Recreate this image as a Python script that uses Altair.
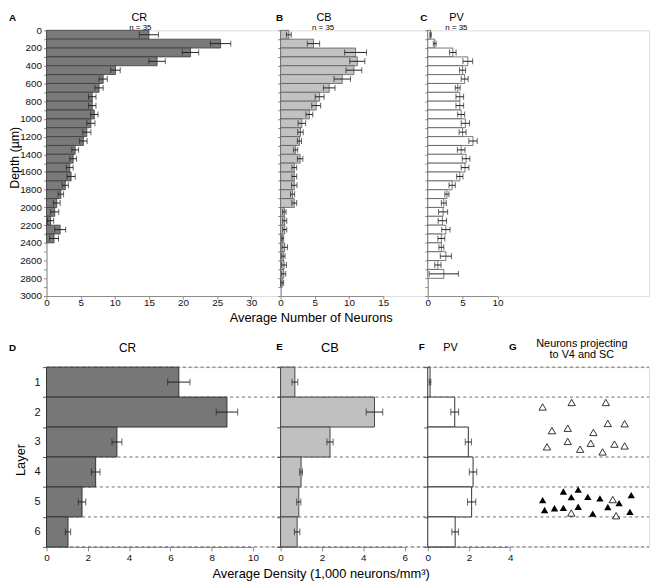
import altair as alt
import pandas as pd

FONT = "Liberation Sans"
AX = "#8a8a8a"

# ---------------- data: top panels (counts per 100 um depth bin) ----------------
cr_counts = [15.0, 25.5, 21.1, 16.2, 10.1, 8.3, 7.7, 6.7, 6.7, 7.0, 6.5, 5.9, 5.4, 4.2,
             3.9, 3.4, 3.6, 2.75, 2.1, 1.5, 1.2, 0.6, 2.0, 1.1]
cr_sem = [1.4, 1.5, 1.2, 1.2, 0.7, 0.6, 0.6, 0.55, 0.55, 0.55, 0.6, 0.6, 0.55, 0.5,
          0.5, 0.5, 0.6, 0.45, 0.4, 0.5, 0.6, 0.45, 0.8, 0.65]
cb_counts = [1.2, 4.8, 10.95, 11.2, 10.7, 9.0, 7.1, 5.7, 5.2, 4.2, 3.1, 2.9, 2.75, 2.2,
             2.85, 2.0, 2.0, 2.0, 1.75, 2.0, 0.55, 0.6, 0.6, 0.3, 0.6, 0.4, 0.5, 0.45, 0.25]
cb_sem = [0.35, 0.9, 1.6, 1.1, 1.15, 1.2, 0.85, 0.65, 0.65, 0.5, 0.55, 0.4, 0.3, 0.3,
          0.4, 0.35, 0.35, 0.4, 0.3, 0.35, 0.25, 0.3, 0.3, 0.15, 0.4, 0.25, 0.35, 0.3, 0.2]
pv_counts = [0.4, 1.0, 3.6, 5.75, 5.0, 5.3, 4.3, 4.6, 4.6, 4.8, 5.4, 5.0, 6.5, 4.8,
             5.5, 5.35, 4.6, 3.5, 2.75, 2.3, 2.2, 2.1, 2.6, 1.95, 1.95, 2.6, 1.45, 2.3]
pv_sem = [0.1, 0.2, 0.47, 0.7, 0.43, 0.5, 0.35, 0.55, 0.55, 0.5, 0.6, 0.5, 0.6, 0.55,
          0.55, 0.55, 0.45, 0.45, 0.3, 0.35, 0.65, 0.6, 0.6, 0.5, 0.35, 0.8, 0.45, 2.1]
depth_ticks = list(range(0, 3001, 100))

# ---------------- data: bottom panels (density per layer) ----------------
layers = ["1", "2", "3", "4", "5", "6"]
cr_density = [6.41, 8.74, 3.41, 2.38, 1.72, 1.04]
cr_density_sem = [0.54, 0.52, 0.24, 0.21, 0.18, 0.13]
cb_density = [0.69, 4.54, 2.39, 0.99, 0.88, 0.80]
cb_density_sem = [0.14, 0.40, 0.15, 0.07, 0.10, 0.13]
pv_density = [0.11, 1.31, 1.97, 2.20, 2.13, 1.33]
pv_density_sem = [0.04, 0.19, 0.15, 0.18, 0.20, 0.16]
dash_top_of = ["1", "2", "4", "5", "6"]
dash_bottom_of = ["6"]

# ---------------- data: G, projecting neurons (relative x, depth in layer units) ----------------
open_x = [8.3, 37.7, 72.3, 17.7, 33.7, 59.7, 74.3, 91.3, 12.7, 33.7, 46.3, 57, 69, 81, 91.3,
          79.3, 37.3, 82.7]
open_y = [1.33, 1.18, 1.18, 2.12, 2.04, 2.18, 1.88, 1.89, 2.66, 2.48, 2.74, 2.54, 2.83, 2.57,
          2.63, 4.42, 4.87, 4.96]
filled_x = [8.3, 29.3, 44.3, 37.3, 54, 66.3, 85.7, 98, 10.3, 20.3, 29.3, 44.3, 59, 74.3, 96.7]
filled_y = [4.44, 4.15, 4.09, 4.34, 4.33, 4.38, 4.54, 4.27, 4.77, 4.71, 4.70, 4.66, 4.89, 4.67,
            4.83]


def txt(t, dx, dy, size, bold=False, angle=0, align="center"):
    return alt.Chart(pd.DataFrame({"t": [t]})).mark_text(
        fontSize=size, fontWeight="bold" if bold else "normal", align=align,
        baseline="middle", angle=angle, color="#000", font=FONT
    ).encode(text="t:N", x=alt.value(dx), y=alt.value(dy))


def top_panel(vals, errs, fill, stroke, xmax, plotw, W, xvals, ylabels, texts):
    n = len(vals)
    df = pd.DataFrame({
        "d0": [i * 100 for i in range(n)],
        "d1": [(i + 1) * 100 for i in range(n)],
        "mid": [i * 100 + 50 for i in range(n)],
        "v": vals,
        "lo": [v - e for v, e in zip(vals, errs)],
        "hi": [v + e for v, e in zip(vals, errs)],
        "zero": [0] * n,
    })
    xs = alt.Scale(domain=[0, xmax], range=[0, plotw], nice=False, zero=False)
    ys = alt.Scale(domain=[0, 3000], reverse=True, nice=False, zero=False)
    xaxis = alt.Axis(values=xvals, title=None, grid=False, tickSize=3, labelPadding=-1,
                     labelFlush=False, labelOverlap=False, domainColor=AX, tickColor=AX,
                     labelColor="#111", labelFontSize=10, format="d")
    yaxis = alt.Axis(values=depth_ticks, title=None, grid=False, tickSize=3, labelPadding=2,
                     labels=ylabels, format="d",
                     labelExpr="datum.value % 200 === 0 ? datum.label : ''",
                     labelOverlap=False, labelFlush=False, domainColor=AX, tickColor=AX,
                     labelColor="#111", labelFontSize=10)
    base = alt.Chart(df)
    X = lambda f: alt.X(f, scale=xs, axis=xaxis)
    Y = lambda f: alt.Y(f, scale=ys, axis=yaxis)
    bars = base.mark_bar(fill=fill, stroke=stroke, strokeWidth=0.8).encode(
        x=X("zero:Q"), x2="v:Q", y=Y("d0:Q"), y2="d1:Q")
    err = base.mark_rule(color="#222", strokeWidth=1).encode(
        x=X("lo:Q"), x2="hi:Q", y=Y("mid:Q"))
    cap_lo = base.mark_tick(orient="vertical", size=6, thickness=1, color="#222").encode(
        x=X("lo:Q"), y=Y("mid:Q"))
    cap_hi = base.mark_tick(orient="vertical", size=6, thickness=1, color="#222").encode(
        x=X("hi:Q"), y=Y("mid:Q"))
    return alt.layer(bars, err, cap_lo, cap_hi, *texts).properties(width=W, height=269)


def bottom_panel(vals, errs, fill, stroke, xmax, plotw, W, xvals, ylabels, texts, extra=None):
    df = pd.DataFrame({
        "layer": layers,
        "v": vals,
        "lo": [v - e for v, e in zip(vals, errs)],
        "hi": [v + e for v, e in zip(vals, errs)],
        "zero": [0] * len(vals),
    })
    xs = alt.Scale(domain=[0, xmax], range=[0, plotw], nice=False, zero=False)
    ys = alt.Scale(domain=layers, paddingInner=0, paddingOuter=0)
    xaxis = alt.Axis(values=xvals, title=None, grid=False, tickSize=4, labelPadding=2,
                     labelFlush=False, labelOverlap=False, domainColor=AX, tickColor=AX,
                     labelColor="#111", labelFontSize=10, format="d")
    yaxis = alt.Axis(title=None, grid=False, tickBand="extent", labels=ylabels, tickSize=4,
                     labelPadding=2.5, labelAngle=0, domainColor="#555", tickColor="#555",
                     labelColor="#111", labelFontSize=11)
    X = lambda f: alt.X(f, scale=xs, axis=xaxis)
    dash0 = alt.Chart(pd.DataFrame({"layer": dash_top_of})).mark_rule(
        strokeDash=[3, 3], color="#444", strokeWidth=0.8).encode(
        y=alt.Y("layer:N", scale=ys, axis=yaxis, bandPosition=0),
        x=alt.value(0), x2=alt.value(W))
    dash1 = alt.Chart(pd.DataFrame({"layer": dash_bottom_of})).mark_rule(
        strokeDash=[3, 3], color="#444", strokeWidth=0.8).encode(
        y=alt.Y("layer:N", scale=ys, axis=yaxis, bandPosition=1),
        x=alt.value(0), x2=alt.value(W))
    base = alt.Chart(df)
    Y = lambda f: alt.Y(f, scale=ys, axis=yaxis)
    bars = base.mark_bar(fill=fill, stroke=stroke, strokeWidth=1).encode(
        x=X("zero:Q"), x2="v:Q", y=Y("layer:N"))
    err = base.mark_rule(color="#222", strokeWidth=1).encode(
        x=X("lo:Q"), x2="hi:Q", y=Y("layer:N"))
    cap_lo = base.mark_tick(orient="vertical", size=7, thickness=1, color="#222").encode(
        x=X("lo:Q"), y=Y("layer:N"))
    cap_hi = base.mark_tick(orient="vertical", size=7, thickness=1, color="#222").encode(
        x=X("hi:Q"), y=Y("layer:N"))
    inner = alt.layer(dash0, dash1, bars, err, cap_lo, cap_hi, *texts)
    if extra is not None:
        out = alt.layer(inner, extra).resolve_scale(x="independent", y="independent")
    else:
        out = inner
    return out.properties(width=W, height=182)


A = top_panel(cr_counts, cr_sem, "#7a7a7a", "#3c3c3c", 30, 207.3, 237,
              [0, 5, 10, 15, 20, 25, 30], True,
              [txt("A", -38, -12, 10, bold=True, align="left"),
               txt("CR", 94, -12, 11), txt("n = 35", 95, -2.5, 8),
               txt("Depth (µm)", -32, 129, 12.5, angle=270),
               txt("Average Number of Neurons", 268, 291, 13)])
B = top_panel(cb_counts, cb_sem, "#c2c2c2", "#5a5a5a", 15, 104, 149,
              [0, 5, 10, 15], False,
              [txt("B", -1, -12, 10, bold=True), txt("CB", 44, -12, 11),
               txt("n = 35", 43, -2.5, 8)])
C = top_panel(pv_counts, pv_sem, "#ffffff", "#555555", 10, 70.5, 224,
              [0, 5, 10], False,
              [txt("C", -4, -12, 10, bold=True), txt("PV", 29, -12, 11),
               txt("n = 35", 29, -2.5, 8)])

gx = alt.Scale(domain=[0, 105], range=[108, 213], nice=False, zero=False)
gy = alt.Scale(domain=[0, 6], reverse=True, nice=False, zero=False)
tri_open = alt.Chart(pd.DataFrame({"gx": open_x, "gy": open_y})).mark_point(
    shape="triangle-up", filled=False, size=55, stroke="#000", strokeWidth=0.8, opacity=1
).encode(x=alt.X("gx:Q", scale=gx, axis=None), y=alt.Y("gy:Q", scale=gy, axis=None))
tri_filled = alt.Chart(pd.DataFrame({"gx": filled_x, "gy": filled_y})).mark_point(
    shape="triangle-up", filled=True, size=55, fill="#000", opacity=1
).encode(x=alt.X("gx:Q", scale=gx, axis=None), y=alt.Y("gy:Q", scale=gy, axis=None))
G = alt.layer(tri_open, tri_filled)

D = bottom_panel(cr_density, cr_density_sem, "#777777", "#333333", 10, 209, 237,
                 [0, 2, 4, 6, 8, 10], True,
                 [txt("D", -38, -19, 10, bold=True, align="left"), txt("CR", 82, -19, 12),
                  txt("Layer", -26, 94, 13, angle=270),
                  txt("Average Density (1,000 neurons/mm³)", 278, 210, 13)])
E = bottom_panel(cb_density, cb_density_sem, "#c0c0c0", "#444444", 6, 125.6, 149,
                 [0, 2, 4, 6], False,
                 [txt("E", -1, -20, 10, bold=True), txt("CB", 50, -19, 13)])
F = bottom_panel(pv_density, pv_density_sem, "#ffffff", "#333333", 4, 83.4, 224,
                 [0, 2, 4], False,
                 [txt("F", -6, -20, 10, bold=True), txt("PV", 23, -19, 11),
                  txt("G", 86, -20, 10, bold=True),
                  txt("Neurons projecting", 156, -23, 11),
                  txt("to V4 and SC", 156, -12, 11)],
                 extra=G)

chart = alt.ConcatChart(
    concat=[A, B, C, D, E, F], columns=3,
    spacing={"row": 72, "column": 0}, bounds="flush", align="each",
    padding=0,
).configure_view(stroke=None).configure(font=FONT)

chart.save("out.html", embed_options={"renderer": "svg", "actions": False})
